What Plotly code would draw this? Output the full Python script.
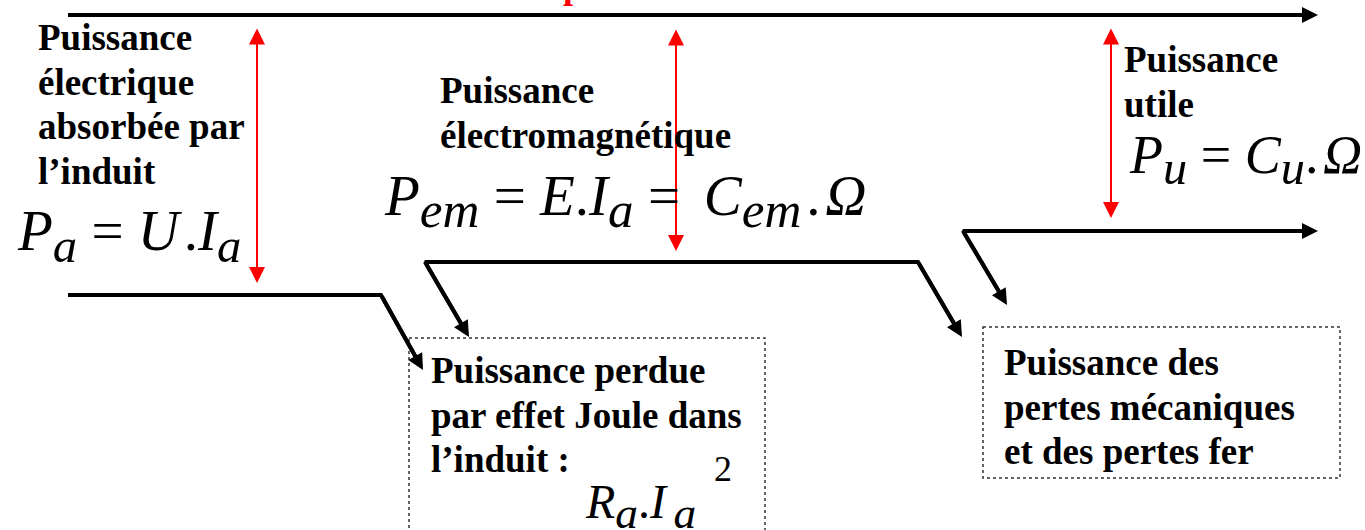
import plotly.graph_objects as go

W, H = 1365, 530

# ---- diagram data (pixel space of the reference picture) ----
# black power-flow polylines; last point of each is an arrow tip
top_flow_x = [68, 1318]
top_flow_y = [15, 15]
pa_flow_x = [68, 381, 423]
pa_flow_y = [295, 295, 370]
pem_flow_x = [469, 425, 918, 962]     # both ends are arrow tips
pem_flow_y = [337, 262, 262, 337]
pu_flow_x = [1007, 963, 1318]         # both ends are arrow tips
pu_flow_y = [305, 231, 231]

# red double arrows (x, top tip y, bottom tip y)
red_arrow_x = [257, 676, 1111]
red_arrow_top = [27, 28, 27]
red_arrow_bottom = [283, 251, 218]

# dotted loss boxes
box_x0 = [409, 983]
box_x1 = [765, 1340]
box_y0 = [338, 327]
box_y1 = [545, 478]

# text blocks: (left x, first baseline, lines)
label_blocks = [
    (36, 50, ["Puissance", "électrique", "absorbée par", "l’induit"]),
    (438, 103, ["Puissance", "électromagnétique"]),
    (1122, 72, ["Puissance", "utile"]),
    (429, 383, ["Puissance perdue", "par effet Joule dans", "l’induit :"]),
    (1002, 375, ["Puissance des", "pertes mécaniques", "et des pertes fer"]),
]
label_line_gap = 44.7
label_size = 37

HAIR = "\u200a"
WIDE = "\u2004\u200a"


def it(t):
    return "<i>" + t + "</i>"


def sub(t, pct=128, pad=""):
    return '<sub><span style="font-size:%d%%">' % pct + pad + it(t) + "</span></sub>"


# formulas: (left x, baseline, size, html)
formulas = [
    (15, 255, 57, it("P") + sub("a", 122) + " = " + it("U") + HAIR + "." + it("I") + sub("a", 122)),
    (382, 220, 57, it("P") + sub("em") + " = " + it("E") + "." + it("I") + sub("a")
     + " =" + WIDE + it("C") + sub("em") + HAIR + "." + HAIR + it("Ω")),
    (1127, 178, 54, it("P") + sub("u") + " = " + it("C") + sub("u") + "." + HAIR + it("Ω")),
    (583, 523, 48, it("R") + sub("a", 135) + "." + it("I") + sub("a", 135, HAIR + HAIR)),
]
# exponent of the Joule-loss formula: (centre x, centre y, size, text)
exponent = (723, 469, 36, "2")

SERIF = "Liberation Serif"
BLACK = "#000000"
RED = "#ff0000"

fig = go.Figure()
annotations = []


def seg_shorten(x0, y0, x1, y1, d):
    import math
    L = math.hypot(x1 - x0, y1 - y0)
    return x1 - (x1 - x0) * d / L, y1 - (y1 - y0) * d / L


def head(xs, ys, i_tip, i_from):
    annotations.append(dict(x=xs[i_tip], y=ys[i_tip], ax=xs[i_from], ay=ys[i_from],
                            xref="x", yref="y", axref="x", ayref="y", showarrow=True,
                            arrowhead=2, arrowsize=0.8, arrowwidth=4, arrowcolor=BLACK,
                            text=""))


def flow(xs, ys, start_arrow=False):
    px, py = list(xs), list(ys)
    px[-1], py[-1] = seg_shorten(xs[-2], ys[-2], xs[-1], ys[-1], 12)
    head(xs, ys, -1, -2)
    if start_arrow:
        px[0], py[0] = seg_shorten(xs[1], ys[1], xs[0], ys[0], 12)
        head(xs, ys, 0, 1)
    fig.add_trace(go.Scatter(x=px, y=py, mode="lines", hoverinfo="skip",
                             line=dict(color=BLACK, width=4), showlegend=False))


flow(top_flow_x, top_flow_y)
flow(pa_flow_x, pa_flow_y)
flow(pem_flow_x, pem_flow_y, start_arrow=True)
flow(pu_flow_x, pu_flow_y, start_arrow=True)

for x, yt, yb in zip(red_arrow_x, red_arrow_top, red_arrow_bottom):
    annotations.append(dict(x=x, y=yb, ax=x, ay=yt, xref="x", yref="y", axref="x", ayref="y",
                            showarrow=True, arrowhead=2, startarrowhead=2, arrowside="end+start",
                            arrowsize=1.6, startarrowsize=1.6, arrowwidth=2,
                            arrowcolor=RED, text=""))

shapes = []
for x0, x1, y0, y1 in zip(box_x0, box_x1, box_y0, box_y1):
    shapes.append(dict(type="rect", xref="x", yref="y", x0=x0, x1=x1, y0=y0, y1=y1,
                       line=dict(color="#333333", width=1.5, dash="dot"), layer="below"))

# text labels: one annotation per line, centred so the baseline lands at target
ASC = 0.3375
for lx, base, lines in label_blocks:
    for i, t in enumerate(lines):
        b = base + i * label_line_gap
        annotations.append(dict(x=lx, y=b - ASC * label_size, xref="x", yref="y",
                                xanchor="left", yanchor="middle", showarrow=False,
                                text="<b>" + t + "</b>",
                                font=dict(family=SERIF, size=label_size, color=BLACK)))

for lx, base, size, html in formulas:
    annotations.append(dict(x=lx, y=base - ASC * size, xref="x", yref="y",
                            xanchor="left", yanchor="middle", showarrow=False, text=html,
                            font=dict(family=SERIF, size=size, color=BLACK)))

ex, ey, es, et = exponent
annotations.append(dict(x=ex, y=ey, xref="x", yref="y", xanchor="center", yanchor="middle",
                        showarrow=False, text=et,
                        font=dict(family=SERIF, size=es, color=BLACK)))

# red title fragment cut off at the top edge
annotations.append(dict(x=573 / W, y=1 + 14 / H, xref="paper", yref="paper",
                        xanchor="center", yanchor="middle",
                        showarrow=False, text="<b>p</b>",
                        font=dict(family=SERIF, size=36, color=RED)))

fig.update_layout(
    width=W, height=H, margin=dict(l=0, r=0, t=0, b=0),
    paper_bgcolor="white", plot_bgcolor="white",
    xaxis=dict(range=[0, W], visible=False, fixedrange=True),
    yaxis=dict(range=[H, 0], visible=False, fixedrange=True),
    annotations=annotations, shapes=shapes, showlegend=False,
)

fig.write_html("out.html", config={"displayModeBar": False},
               post_script="document.body.style.margin='0px';")
